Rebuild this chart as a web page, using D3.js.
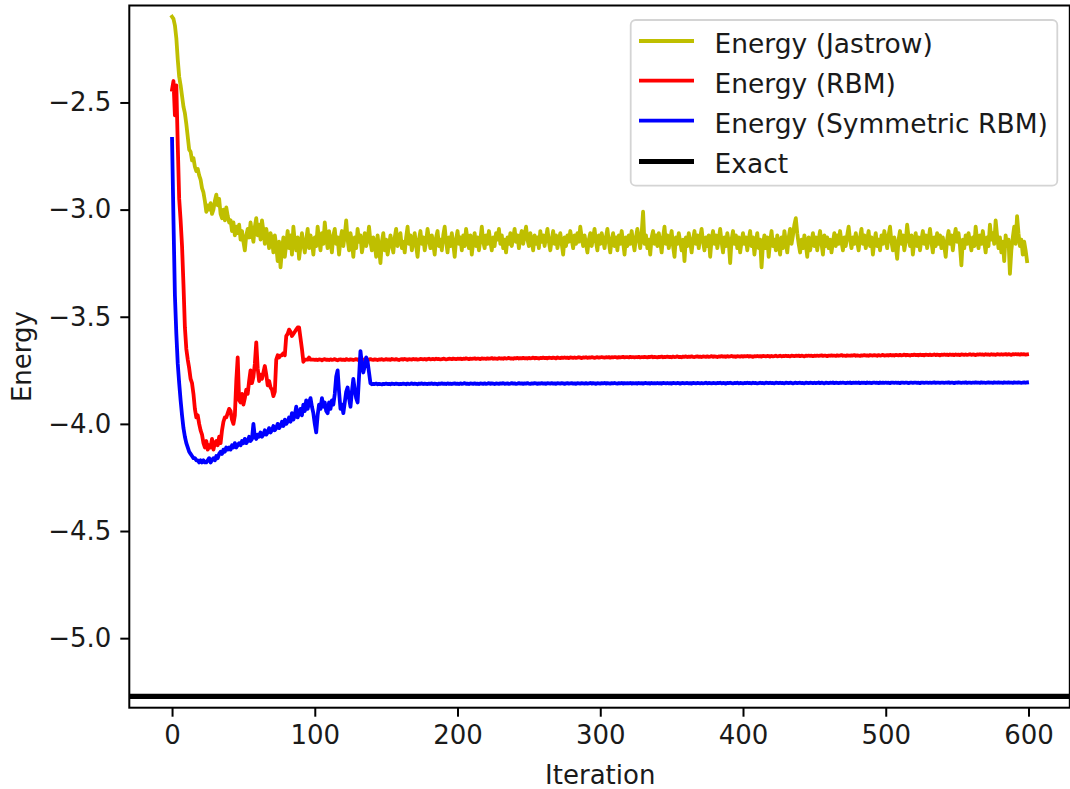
<!DOCTYPE html>
<html>
<head>
<meta charset="utf-8">
<script src="https://cdn.jsdelivr.net/npm/d3@7"></script>
<style>
  html, body { margin: 0; padding: 0; background: #fff; }
  svg { display: block; font-family: "DejaVu Sans", sans-serif; }
</style>
</head>
<body>
<svg id="chart" width="1070" height="789"></svg>
<script>
// Variational energy per optimisation step (index = iteration)
const energyJastrow = [
  -2.10,-2.11,-2.14,-2.20,-2.30,-2.38,-2.42,-2.47,-2.52,-2.55,-2.60,-2.66,-2.72,-2.73,-2.77,-2.76,-2.80,-2.82,-2.81,-2.84,
  -2.86,-2.90,-2.92,-2.96,-3.01,-2.98,-3.00,-2.97,-3.02,-3.00,-2.96,-2.93,-2.98,-2.95,-3.02,-3.04,-3.00,-3.05,-2.99,-3.03,
  -3.06,-3.05,-3.10,-3.06,-3.12,-3.08,-3.11,-3.07,-3.14,-3.10,-3.15,-3.19,-3.12,-3.09,-3.13,-3.06,-3.11,-3.15,-3.08,-3.04,
  -3.12,-3.07,-3.14,-3.05,-3.10,-3.16,-3.09,-3.13,-3.18,-3.11,-3.14,-3.20,-3.12,-3.17,-3.24,-3.15,-3.27,-3.19,-3.13,-3.22,
  -3.16,-3.10,-3.18,-3.12,-3.21,-3.08,-3.15,-3.19,-3.13,-3.23,-3.17,-3.11,-3.16,-3.20,-3.14,-3.09,-3.18,-3.12,-3.15,-3.21,
  -3.13,-3.17,-3.08,-3.14,-3.19,-3.11,-3.16,-3.06,-3.13,-3.18,-3.10,-3.15,-3.20,-3.12,-3.09,-3.16,-3.13,-3.21,-3.14,-3.10,
  -3.17,-3.12,-3.05,-3.14,-3.19,-3.11,-3.15,-3.22,-3.13,-3.18,-3.09,-3.15,-3.12,-3.20,-3.16,-3.11,-3.17,-3.14,-3.08,-3.15,
  -3.19,-3.13,-3.16,-3.22,-3.12,-3.18,-3.25,-3.15,-3.11,-3.19,-3.14,-3.21,-3.17,-3.12,-3.16,-3.20,-3.13,-3.09,-3.17,-3.14,
  -3.11,-3.18,-3.15,-3.20,-3.13,-3.08,-3.16,-3.12,-3.19,-3.15,-3.11,-3.17,-3.22,-3.14,-3.10,-3.16,-3.13,-3.19,-3.15,-3.09,
  -3.14,-3.18,-3.12,-3.16,-3.21,-3.13,-3.10,-3.17,-3.14,-3.19,-3.12,-3.08,-3.15,-3.20,-3.13,-3.17,-3.11,-3.16,-3.22,-3.14,
  -3.10,-3.16,-3.13,-3.19,-3.12,-3.17,-3.09,-3.14,-3.18,-3.12,-3.21,-3.15,-3.11,-3.17,-3.13,-3.19,-3.14,-3.08,-3.15,-3.18,
  -3.12,-3.16,-3.10,-3.15,-3.19,-3.13,-3.17,-3.11,-3.14,-3.09,-3.16,-3.12,-3.18,-3.14,-3.20,-3.13,-3.16,-3.11,-3.17,-3.13,
  -3.09,-3.15,-3.12,-3.18,-3.13,-3.10,-3.16,-3.12,-3.08,-3.14,-3.17,-3.11,-3.15,-3.19,-3.12,-3.16,-3.13,-3.18,-3.10,-3.15,
  -3.12,-3.17,-3.13,-3.09,-3.15,-3.19,-3.14,-3.10,-3.16,-3.12,-3.18,-3.14,-3.11,-3.16,-3.21,-3.13,-3.17,-3.12,-3.15,-3.10,
  -3.14,-3.18,-3.12,-3.16,-3.11,-3.15,-3.08,-3.13,-3.17,-3.12,-3.16,-3.20,-3.14,-3.11,-3.17,-3.13,-3.09,-3.15,-3.19,-3.12,
  -3.16,-3.11,-3.14,-3.18,-3.13,-3.09,-3.15,-3.20,-3.14,-3.11,-3.17,-3.13,-3.19,-3.12,-3.16,-3.10,-3.15,-3.21,-3.13,-3.17,
  -3.12,-3.16,-3.10,-3.15,-3.19,-3.13,-3.09,-3.14,-3.18,-3.11,-3.01,-3.16,-3.12,-3.18,-3.14,-3.21,-3.13,-3.10,-3.16,-3.12,
  -3.17,-3.11,-3.15,-3.20,-3.13,-3.08,-3.16,-3.12,-3.18,-3.14,-3.10,-3.17,-3.22,-3.13,-3.16,-3.11,-3.15,-3.19,-3.14,-3.24,
  -3.13,-3.17,-3.11,-3.15,-3.20,-3.14,-3.10,-3.16,-3.12,-3.18,-3.13,-3.09,-3.15,-3.19,-3.13,-3.17,-3.12,-3.22,-3.14,-3.10,
  -3.16,-3.12,-3.18,-3.14,-3.09,-3.15,-3.20,-3.13,-3.17,-3.11,-3.15,-3.25,-3.14,-3.10,-3.16,-3.12,-3.18,-3.13,-3.20,-3.15,
  -3.11,-3.16,-3.13,-3.19,-3.14,-3.10,-3.17,-3.13,-3.21,-3.15,-3.11,-3.18,-3.14,-3.27,-3.16,-3.12,-3.18,-3.13,-3.22,-3.15,
  -3.10,-3.17,-3.14,-3.19,-3.12,-3.16,-3.21,-3.13,-3.18,-3.10,-3.15,-3.20,-3.13,-3.09,-3.16,-3.12,-3.07,-3.04,-3.11,-3.16,
  -3.20,-3.14,-3.18,-3.12,-3.16,-3.22,-3.13,-3.19,-3.15,-3.11,-3.17,-3.13,-3.19,-3.14,-3.10,-3.16,-3.21,-3.12,-3.17,-3.13,
  -3.18,-3.14,-3.20,-3.15,-3.11,-3.17,-3.12,-3.16,-3.10,-3.15,-3.19,-3.13,-3.17,-3.12,-3.08,-3.14,-3.18,-3.13,-3.16,-3.11,
  -3.15,-3.19,-3.13,-3.09,-3.16,-3.12,-3.18,-3.14,-3.10,-3.17,-3.13,-3.21,-3.15,-3.11,-3.17,-3.14,-3.19,-3.12,-3.16,-3.10,
  -3.14,-3.18,-3.12,-3.08,-3.15,-3.19,-3.13,-3.17,-3.23,-3.14,-3.10,-3.16,-3.12,-3.19,-3.15,-3.07,-3.13,-3.17,-3.12,-3.21,
  -3.15,-3.11,-3.17,-3.13,-3.19,-3.14,-3.10,-3.16,-3.12,-3.18,-3.14,-3.09,-3.15,-3.20,-3.13,-3.17,-3.11,-3.16,-3.12,-3.18,
  -3.13,-3.17,-3.22,-3.14,-3.10,-3.16,-3.12,-3.19,-3.13,-3.09,-3.15,-3.11,-3.17,-3.26,-3.14,-3.18,-3.12,-3.16,-3.11,-3.15,
  -3.19,-3.13,-3.17,-3.08,-3.14,-3.18,-3.12,-3.16,-3.10,-3.15,-3.20,-3.13,-3.17,-3.07,-3.14,-3.11,-3.16,-3.05,-3.12,-3.18,
  -3.13,-3.20,-3.15,-3.24,-3.12,-3.17,-3.14,-3.30,-3.19,-3.13,-3.08,-3.16,-3.03,-3.11,-3.17,-3.14,-3.21,-3.15,-3.19,-3.24
];

const energyRBM = [
  -2.44,-2.40,-2.56,-2.42,-2.70,-2.95,-3.05,-3.17,-3.35,-3.55,-3.65,-3.70,-3.74,-3.79,-3.81,-3.86,-3.93,-3.97,-3.96,-4.00,
  -4.03,-4.05,-4.09,-4.11,-4.08,-4.12,-4.10,-4.11,-4.07,-4.12,-4.09,-4.08,-4.10,-4.06,-4.09,-4.03,-3.99,-3.97,-3.97,-3.95,
  -3.93,-3.94,-3.98,-4.00,-3.96,-3.80,-3.69,-3.89,-3.90,-3.86,-3.91,-3.88,-3.84,-3.86,-3.80,-3.75,-3.81,-3.78,-3.72,-3.62,
  -3.74,-3.80,-3.77,-3.79,-3.76,-3.73,-3.77,-3.82,-3.80,-3.83,-3.84,-3.87,-3.85,-3.70,-3.68,-3.69,-3.68,-3.68,-3.67,-3.68,
  -3.59,-3.58,-3.56,-3.57,-3.59,-3.58,-3.57,-3.56,-3.55,-3.55,-3.60,-3.65,-3.71,-3.70,-3.70,-3.70,-3.69,-3.70,-3.70,-3.70,
  -3.701,-3.700,-3.702,-3.699,-3.700,-3.703,-3.700,-3.698,-3.701,-3.700,-3.702,-3.699,-3.701,-3.700,-3.698,-3.701,-3.703,-3.700,-3.699,-3.701,-3.700,-3.702,-3.698,-3.700,-3.701,
  -3.699,-3.700,-3.702,-3.700,-3.698,-3.701,-3.699,-3.700,-3.702,-3.701,-3.699,-3.700,-3.703,-3.700,-3.698,-3.700,-3.701,-3.699,-3.700,-3.702,-3.699,-3.700,-3.698,-3.701,-3.700,
  -3.698,-3.700,-3.699,-3.701,-3.697,-3.699,-3.700,-3.698,-3.700,-3.702,-3.699,-3.698,-3.700,-3.697,-3.699,-3.701,-3.698,-3.699,-3.700,-3.697,-3.699,-3.698,-3.700,-3.699,-3.697,
  -3.698,-3.699,-3.697,-3.700,-3.698,-3.696,-3.699,-3.698,-3.697,-3.699,-3.696,-3.698,-3.697,-3.699,-3.698,-3.696,-3.697,-3.699,-3.698,-3.696,-3.697,-3.698,-3.695,-3.697,-3.698,
  -3.696,-3.697,-3.695,-3.698,-3.696,-3.697,-3.694,-3.696,-3.698,-3.695,-3.697,-3.696,-3.694,-3.697,-3.695,-3.696,-3.698,-3.694,-3.696,-3.695,-3.697,-3.694,-3.696,-3.695,-3.693,
  -3.696,-3.694,-3.695,-3.697,-3.693,-3.695,-3.694,-3.696,-3.693,-3.695,-3.694,-3.692,-3.695,-3.694,-3.696,-3.693,-3.694,-3.692,-3.695,-3.693,-3.694,-3.692,-3.694,-3.693,-3.695,
  -3.692,-3.694,-3.693,-3.691,-3.694,-3.692,-3.693,-3.695,-3.692,-3.693,-3.691,-3.693,-3.692,-3.694,-3.691,-3.692,-3.693,-3.691,-3.692,-3.694,-3.690,-3.692,-3.693,-3.691,-3.692,
  -3.690,-3.692,-3.691,-3.693,-3.690,-3.691,-3.692,-3.690,-3.692,-3.691,-3.689,-3.691,-3.693,-3.690,-3.691,-3.689,-3.692,-3.690,-3.691,-3.689,-3.690,-3.692,-3.690,-3.689,-3.691,
  -3.690,-3.688,-3.690,-3.691,-3.689,-3.690,-3.688,-3.691,-3.689,-3.690,-3.688,-3.689,-3.691,-3.688,-3.690,-3.689,-3.687,-3.690,-3.689,-3.688,-3.690,-3.687,-3.689,-3.688,-3.690,
  -3.688,-3.689,-3.687,-3.690,-3.688,-3.689,-3.687,-3.688,-3.690,-3.687,-3.688,-3.686,-3.689,-3.687,-3.688,-3.690,-3.687,-3.688,-3.686,-3.689,-3.687,-3.688,-3.686,-3.688,-3.687,
  -3.689,-3.686,-3.688,-3.687,-3.685,-3.688,-3.687,-3.689,-3.686,-3.687,-3.685,-3.688,-3.686,-3.687,-3.685,-3.687,-3.688,-3.686,-3.685,-3.687,-3.686,-3.688,-3.685,-3.686,-3.687,
  -3.685,-3.687,-3.686,-3.684,-3.687,-3.685,-3.686,-3.688,-3.685,-3.686,-3.684,-3.686,-3.685,-3.687,-3.684,-3.686,-3.685,-3.683,-3.686,-3.685,-3.687,-3.684,-3.685,-3.686,-3.684,
  -3.686,-3.684,-3.685,-3.683,-3.686,-3.684,-3.685,-3.687,-3.684,-3.685,-3.683,-3.685,-3.684,-3.686,-3.683,-3.684,-3.685,-3.683,-3.684,-3.686,-3.683,-3.685,-3.684,-3.682,-3.685,
  -3.684,-3.682,-3.685,-3.683,-3.684,-3.682,-3.684,-3.683,-3.685,-3.682,-3.683,-3.684,-3.682,-3.683,-3.681,-3.684,-3.682,-3.683,-3.685,-3.682,-3.683,-3.681,-3.683,-3.682,-3.684,
  -3.682,-3.683,-3.681,-3.683,-3.682,-3.680,-3.683,-3.681,-3.682,-3.684,-3.681,-3.682,-3.680,-3.682,-3.681,-3.683,-3.680,-3.682,-3.681,-3.679,-3.682,-3.681,-3.683,-3.680,-3.681,
  -3.682,-3.680,-3.681,-3.679,-3.682,-3.680,-3.681,-3.683,-3.680,-3.681,-3.679,-3.681,-3.680,-3.682,-3.679,-3.680,-3.681,-3.679,-3.680,-3.682,-3.679,-3.681,-3.680,-3.678,-3.681,
  -3.680,-3.679,-3.681,-3.678,-3.680,-3.679,-3.681,-3.678,-3.679,-3.680,-3.678,-3.680,-3.679,-3.677,-3.680,-3.678,-3.679,-3.681,-3.678,-3.679,-3.677,-3.679,-3.678,-3.680,-3.677,
  -3.679,-3.678,-3.680,-3.677,-3.678,-3.679,-3.677,-3.679,-3.678,-3.676,-3.679,-3.677,-3.678,-3.680,-3.677,-3.678,-3.676,-3.678,-3.677,-3.679,-3.676,-3.678,-3.677,-3.679,-3.676,
  -3.678,-3.677,-3.679,-3.676,-3.677,-3.678,-3.676,-3.678,-3.677,-3.675,-3.678,-3.676,-3.677,-3.679,-3.676,-3.677,-3.675,-3.677,-3.676,-3.678,-3.675,-3.677,-3.676,-3.678,-3.675,
  -3.677,-3.676,-3.678,-3.675,-3.676,-3.677,-3.675,-3.677,-3.676,-3.674,-3.677,-3.675,-3.676,-3.678,-3.675,-3.676,-3.674,-3.676,-3.675,-3.677,-3.674,-3.676,-3.675,-3.677,-3.676
];

const energySymRBM = [
  -2.67,-3.05,-3.40,-3.58,-3.72,-3.81,-3.89,-3.96,-4.02,-4.06,-4.09,-4.11,-4.13,-4.14,-4.15,-4.16,-4.16,-4.17,-4.17,-4.18,
  -4.17,-4.18,-4.17,-4.18,-4.18,-4.17,-4.16,-4.18,-4.17,-4.16,-4.17,-4.15,-4.16,-4.14,-4.13,-4.14,-4.12,-4.13,-4.11,-4.12,
  -4.11,-4.12,-4.10,-4.11,-4.09,-4.11,-4.10,-4.09,-4.10,-4.08,-4.09,-4.07,-4.09,-4.08,-4.06,-4.08,-4.07,-4.00,-4.06,-4.07,
  -4.05,-4.06,-4.04,-4.06,-4.05,-4.03,-4.05,-4.04,-4.02,-4.04,-4.03,-4.01,-4.03,-4.02,-4.00,-4.02,-4.01,-3.99,-4.01,-3.98,
  -4.00,-3.99,-3.97,-3.99,-3.95,-3.98,-3.96,-3.92,-3.97,-3.95,-3.93,-3.96,-3.91,-3.94,-3.89,-3.93,-3.90,-3.88,-3.92,-3.95,
  -4.00,-4.04,-3.96,-3.91,-3.93,-3.88,-3.92,-3.90,-3.94,-3.95,-3.90,-3.93,-3.89,-3.91,-3.86,-3.78,-3.75,-3.85,-3.93,-3.91,
  -3.95,-3.90,-3.85,-3.83,-3.88,-3.92,-3.85,-3.79,-3.84,-3.88,-3.90,-3.78,-3.66,-3.72,-3.76,-3.73,-3.69,-3.71,-3.76,-3.81,
  -3.815,-3.813,-3.814,-3.812,-3.815,-3.813,-3.814,-3.816,-3.813,-3.814,-3.812,-3.814,-3.813,-3.815,-3.812,-3.813,-3.814,-3.812,-3.813,-3.815,
  -3.813,-3.814,-3.812,-3.813,-3.815,-3.812,-3.814,-3.813,-3.811,-3.814,-3.812,-3.813,-3.815,-3.812,-3.813,-3.811,-3.814,-3.812,-3.813,-3.814,
  -3.812,-3.813,-3.811,-3.814,-3.812,-3.813,-3.815,-3.812,-3.813,-3.811,-3.813,-3.812,-3.814,-3.811,-3.813,-3.812,-3.814,-3.812,-3.811,-3.813,
  -3.812,-3.814,-3.811,-3.813,-3.812,-3.810,-3.813,-3.812,-3.814,-3.811,-3.812,-3.813,-3.811,-3.813,-3.812,-3.814,-3.811,-3.812,-3.813,-3.811,
  -3.813,-3.812,-3.810,-3.813,-3.811,-3.812,-3.814,-3.811,-3.812,-3.813,-3.811,-3.812,-3.810,-3.813,-3.812,-3.811,-3.813,-3.812,-3.810,-3.812,
  -3.811,-3.813,-3.812,-3.810,-3.812,-3.811,-3.813,-3.811,-3.812,-3.810,-3.812,-3.813,-3.811,-3.812,-3.810,-3.811,-3.813,-3.811,-3.812,-3.810,
  -3.812,-3.811,-3.813,-3.810,-3.811,-3.812,-3.810,-3.812,-3.811,-3.813,-3.810,-3.811,-3.812,-3.810,-3.811,-3.813,-3.811,-3.810,-3.812,-3.811,
  -3.810,-3.812,-3.811,-3.813,-3.810,-3.811,-3.812,-3.810,-3.811,-3.812,-3.810,-3.812,-3.811,-3.809,-3.812,-3.810,-3.811,-3.813,-3.810,-3.811,
  -3.812,-3.810,-3.811,-3.809,-3.812,-3.810,-3.811,-3.812,-3.810,-3.811,-3.809,-3.811,-3.812,-3.810,-3.811,-3.809,-3.812,-3.810,-3.811,-3.810,
  -3.811,-3.809,-3.812,-3.810,-3.811,-3.810,-3.812,-3.809,-3.811,-3.810,-3.812,-3.810,-3.809,-3.811,-3.810,-3.812,-3.809,-3.811,-3.810,-3.811,
  -3.809,-3.811,-3.810,-3.812,-3.809,-3.810,-3.811,-3.809,-3.811,-3.810,-3.812,-3.809,-3.810,-3.811,-3.809,-3.810,-3.812,-3.810,-3.809,-3.811,
  -3.810,-3.809,-3.811,-3.810,-3.812,-3.809,-3.810,-3.811,-3.809,-3.810,-3.811,-3.809,-3.811,-3.810,-3.808,-3.811,-3.809,-3.810,-3.811,-3.809,
  -3.810,-3.811,-3.809,-3.810,-3.808,-3.811,-3.809,-3.810,-3.812,-3.809,-3.810,-3.808,-3.810,-3.811,-3.809,-3.810,-3.808,-3.811,-3.809,-3.810,
  -3.811,-3.809,-3.810,-3.808,-3.810,-3.809,-3.811,-3.808,-3.810,-3.809,-3.811,-3.810,-3.808,-3.810,-3.809,-3.811,-3.808,-3.809,-3.810,-3.808,
  -3.810,-3.809,-3.811,-3.808,-3.809,-3.810,-3.808,-3.810,-3.809,-3.811,-3.808,-3.809,-3.810,-3.808,-3.809,-3.811,-3.809,-3.808,-3.810,-3.809,
  -3.808,-3.810,-3.809,-3.811,-3.808,-3.809,-3.810,-3.808,-3.809,-3.810,-3.808,-3.810,-3.809,-3.807,-3.810,-3.808,-3.809,-3.811,-3.808,-3.809,
  -3.810,-3.808,-3.809,-3.807,-3.810,-3.808,-3.809,-3.810,-3.808,-3.809,-3.807,-3.809,-3.810,-3.808,-3.809,-3.807,-3.810,-3.808,-3.809,-3.808,
  -3.809,-3.807,-3.810,-3.808,-3.809,-3.808,-3.810,-3.807,-3.809,-3.808,-3.810,-3.808,-3.807,-3.809,-3.808,-3.810,-3.807,-3.809,-3.808,-3.809,
  -3.807,-3.809,-3.808,-3.810,-3.807,-3.808,-3.809,-3.807,-3.809,-3.808,-3.810,-3.807,-3.808,-3.809,-3.807,-3.808,-3.810,-3.808,-3.807,-3.809,
  -3.808,-3.807,-3.809,-3.808,-3.810,-3.807,-3.808,-3.809,-3.807,-3.808,-3.809,-3.807,-3.809,-3.808,-3.806,-3.809,-3.807,-3.808,-3.809,-3.807,
  -3.808,-3.809,-3.807,-3.808,-3.806,-3.809,-3.807,-3.808,-3.810,-3.807,-3.808,-3.806,-3.808,-3.809,-3.807,-3.808,-3.806,-3.809,-3.807,-3.808,
  -3.809,-3.807,-3.808,-3.806,-3.808,-3.807,-3.809,-3.806,-3.808,-3.807,-3.809,-3.807,-3.806,-3.808,-3.807,-3.809,-3.806,-3.807,-3.808,-3.806,
  -3.808,-3.807,-3.809,-3.806,-3.807,-3.808,-3.806,-3.808,-3.807,-3.809,-3.806,-3.807,-3.808,-3.806,-3.807,-3.809,-3.807,-3.806,-3.808,-3.807
];

const exactEnergy = -5.272;

const seriesLabels = ["Energy (Jastrow)", "Energy (RBM)", "Energy (Symmetric RBM)", "Exact"];
const seriesColors = ["#bfbf00", "#ff0000", "#0000ff", "#000000"];
const xTickValues = [0, 100, 200, 300, 400, 500, 600];
const yTickValues = [-5.0, -4.5, -4.0, -3.5, -3.0, -2.5];

// ---- layout ----
const svg = d3.select("#chart");
const plot = { left: 129.3, right: 1069.8, top: 5.5, bottom: 707.7 };
const FONT = 26;
const LEGEND_FONT = 26.5;

const x = d3.scaleLinear().domain([-29.95, 628.95]).range([plot.left, plot.right]);
const y = d3.scaleLinear().domain([-5.3245, -2.0475]).range([plot.bottom, plot.top]);

svg.append("defs").append("clipPath").attr("id", "plotClip")
  .append("rect")
  .attr("x", plot.left).attr("y", plot.top)
  .attr("width", plot.right - plot.left).attr("height", plot.bottom - plot.top);

const fmt = d => d3.format(".1f")(d).replace("-", "\u2212");

// axes
const xAxis = d3.axisBottom(x).tickValues(xTickValues).tickSize(9).tickPadding(9).tickFormat(d3.format("d"));
const yAxis = d3.axisLeft(y).tickValues(yTickValues).tickSize(9).tickPadding(9).tickFormat(fmt);

const gx = svg.append("g").attr("transform", `translate(0,${plot.bottom})`).call(xAxis);
const gy = svg.append("g").attr("transform", `translate(${plot.left},0)`).call(yAxis);
[gx, gy].forEach(g => {
  g.select(".domain").remove();
  g.selectAll(".tick line").attr("stroke", "#000").attr("stroke-width", 2);
  g.selectAll(".tick text").attr("fill", "#1a1a1a")
    .style("font-size", FONT + "px").style("font-family", "DejaVu Sans");
});

// data lines
const lineGen = d3.line().x((d, i) => x(i)).y(d => y(d));
const lines = svg.append("g").attr("clip-path", "url(#plotClip)");
[energyJastrow, energyRBM, energySymRBM].forEach((arr, k) => {
  lines.append("path").datum(arr)
    .attr("d", lineGen)
    .attr("fill", "none")
    .attr("stroke", seriesColors[k])
    .attr("stroke-width", 3.8)
    .attr("stroke-linejoin", "round")
    .attr("stroke-linecap", "square");
});
lines.append("line")
  .attr("x1", plot.left).attr("x2", plot.right)
  .attr("y1", y(exactEnergy)).attr("y2", y(exactEnergy))
  .attr("stroke", seriesColors[3]).attr("stroke-width", 5.2);

// frame
svg.append("rect")
  .attr("x", plot.left).attr("y", plot.top)
  .attr("width", plot.right - plot.left).attr("height", plot.bottom - plot.top)
  .attr("fill", "none").attr("stroke", "#000").attr("stroke-width", 2);

// axis titles
svg.append("text")
  .attr("x", x(300)).attr("y", 784)
  .attr("text-anchor", "middle")
  .style("font-size", FONT + "px").attr("fill", "#1a1a1a")
  .text("Iteration");
svg.append("text")
  .attr("transform", `translate(31,${(plot.top + plot.bottom) / 2}) rotate(-90)`)
  .attr("text-anchor", "middle")
  .style("font-size", FONT + "px").attr("fill", "#1a1a1a")
  .text("Energy");

// legend
const legend = svg.append("g");
legend.append("rect")
  .attr("x", 630.7).attr("y", 20).attr("width", 426.6).attr("height", 165.7)
  .attr("rx", 5).attr("ry", 5)
  .attr("fill", "rgba(255,255,255,0.8)").attr("stroke", "#d4d4d4").attr("stroke-width", 1.8);
const rowY = [41, 80.7, 120.7, 161.5];
seriesLabels.forEach((lab, k) => {
  legend.append("line")
    .attr("x1", 639).attr("x2", 694)
    .attr("y1", rowY[k]).attr("y2", rowY[k])
    .attr("stroke", seriesColors[k]).attr("stroke-width", k === 3 ? 5.2 : 3.8);
  legend.append("text")
    .attr("x", 714.5).attr("y", rowY[k] + 11.8)
    .style("font-size", LEGEND_FONT + "px").attr("fill", "#1a1a1a")
    .text(lab);
});
</script>
</body>
</html>
